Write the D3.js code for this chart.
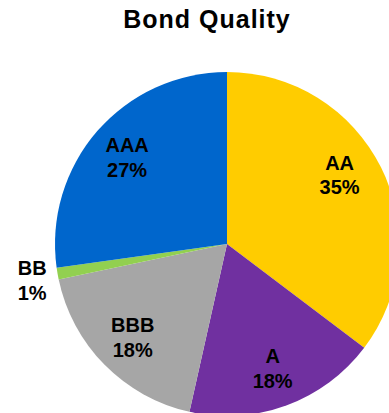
<!DOCTYPE html>
<html><head><meta charset="utf-8">
<script src="https://cdn.jsdelivr.net/npm/d3@7"></script>
<style>html,body{margin:0;padding:0;background:#fff;overflow:hidden}</style>
</head><body>
<svg id="c" width="389" height="413"></svg>
<script>
const categories = ["AA", "A", "BBB", "BB", "AAA"];
const values = [35.3, 18.2, 18.2, 1.1, 27.2];
const pctLabels = ["35%", "18%", "18%", "1%", "27%"];
const colors = ["#FFCC00", "#7030A0", "#A6A6A6", "#92D050", "#0066CC"];
const title = "Bond Quality";

const svg = d3.select("#c");
const cx = 227, cy = 244, r = 172;
const data = categories.map((c, i) => ({cat: c, value: values[i], pct: pctLabels[i], color: colors[i]}));
const pie = d3.pie().value(d => d.value).sort(null);
const arc = d3.arc().innerRadius(0).outerRadius(r);
const g = svg.append("g").attr("transform", `translate(${cx},${cy})`);
const arcs = pie(data);
g.selectAll("path").data(arcs).join("path")
  .attr("d", arc).attr("fill", d => d.data.color);

// label layout (not data): radius factor and small nudges
const labelArc = d3.arc().innerRadius(r * 0.77).outerRadius(r * 0.77);
const outerArc = d3.arc().innerRadius(r * 1.15).outerRadius(r * 1.15);
const nudge = {AA: [-6, -10], A: [0, 0], BBB: [0, 0], BB: [0, 2], AAA: [0, 0]};
const lbl = g.selectAll("text.l").data(arcs).join("text")
  .attr("class", "l")
  .attr("text-anchor", "middle")
  .attr("font-family", "Liberation Sans, Arial, sans-serif")
  .attr("font-weight", "bold").attr("font-size", 20).attr("fill", "#000")
  .attr("transform", d => {
    const p = d.data.cat === "BB" ? outerArc.centroid(d) : labelArc.centroid(d);
    const n = nudge[d.data.cat];
    return `translate(${p[0] + n[0]},${p[1] + n[1]})`;
  });
lbl.append("tspan").attr("x", 0).attr("y", -5).text(d => d.data.cat);
lbl.append("tspan").attr("x", 0).attr("y", 19.5).text(d => d.data.pct);

svg.append("text").attr("x", 207).attr("y", 28).attr("text-anchor", "middle")
  .attr("font-family", "Liberation Sans, Arial, sans-serif")
  .attr("font-weight", "bold").attr("font-size", 25)
  .attr("letter-spacing", 1).text(title);
</script>
</body></html>
